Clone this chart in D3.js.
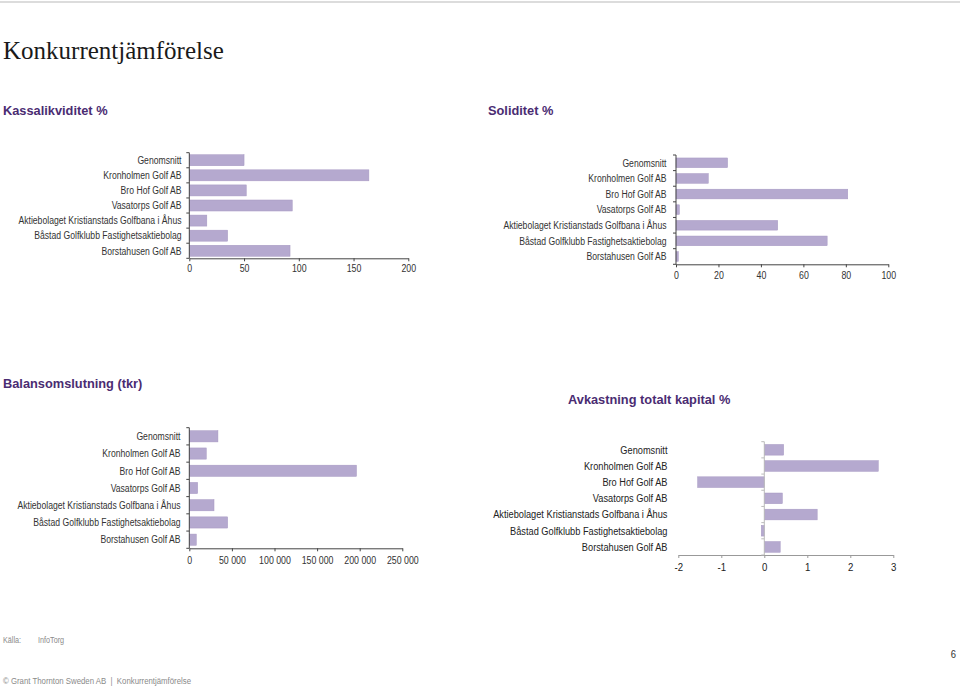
<!DOCTYPE html>
<html>
<head>
<meta charset="utf-8">
<script src="https://cdn.jsdelivr.net/npm/d3@7"></script>
<style>
  html, body { margin: 0; padding: 0; background: #fff; }
  svg { display: block; }
</style>
</head>
<body>
<svg id="chart" width="960" height="687"></svg>
<script>
// ---------------- DATA ----------------
const categories = [
  "Genomsnitt",
  "Kronholmen Golf AB",
  "Bro Hof Golf AB",
  "Vasatorps Golf AB",
  "Aktiebolaget Kristianstads Golfbana i Åhus",
  "Båstad Golfklubb Fastighetsaktiebolag",
  "Borstahusen Golf AB"
];
const kassalikviditet = [50, 164, 52, 94, 16, 35, 92];
const soliditet = [24.3, 15.2, 80.9, 1.6, 47.9, 71.2, 1.1];
const balansomslutning = [33600, 19900, 196200, 9800, 29000, 45000, 8200];
const avkastning = [0.45, 2.65, -1.55, 0.42, 1.23, -0.07, 0.37];

const ticksKassa = [0, 50, 100, 150, 200];
const ticksSoliditet = [0, 20, 40, 60, 80, 100];
const ticksBalans = [0, 50000, 100000, 150000, 200000, 250000];
const ticksAvkastning = [-2, -1, 0, 1, 2, 3];

const pageTitle = "Konkurrentjämförelse";
const chartTitles = ["Kassalikviditet %", "Soliditet %", "Balansomslutning (tkr)", "Avkastning totalt kapital %"];
const sourceLabel = "Källa:";
const sourceName = "InfoTorg";
const footerText = "© Grant Thornton Sweden AB  |  Konkurrentjämförelse";
const pageNumber = "6";

// ---------------- STYLE ----------------
const BAR_FILL = "#b5a9cf";
const BAR_STROKE = "#a697c2";
const PURPLE = "#4a2c72";
const SANS = "'Liberation Sans', Arial, sans-serif";

const svg = d3.select("#chart");

// top rule
svg.append("rect").attr("x", 0).attr("y", 1).attr("width", 960).attr("height", 2).attr("fill", "#dcdcdc");

// page title
svg.append("text").attr("x", 3).attr("y", 59)
  .attr("font-family", "'Liberation Serif', 'Times New Roman', serif")
  .attr("font-size", 25).attr("fill", "#1a1a1a").text(pageTitle);

// section titles
const titlePos = [[3, 115], [488, 115], [3, 388], [568, 404]];
chartTitles.forEach((t, i) => {
  svg.append("text").attr("x", titlePos[i][0]).attr("y", titlePos[i][1])
    .attr("font-family", SANS).attr("font-weight", "bold").attr("font-size", 12.8)
    .attr("fill", PURPLE).text(t);
});

// helper: horizontally-scaled text
function sText(g, x, y, str, opts) {
  const t = g.append("text")
    .attr("transform", `translate(${x},${y}) scale(${opts.sx},1)`)
    .attr("font-family", SANS).attr("font-size", opts.size)
    .attr("fill", opts.fill || "#333")
    .attr("text-anchor", opts.anchor || "start")
    .style("white-space", "pre")
    .text(str);
  if (opts.dy) t.attr("dy", opts.dy);
  return t;
}

function drawChart(cfg) {
  const g = svg.append("g");
  const x = d3.scaleLinear().domain(cfg.domain).range(cfg.xRange);
  const y = d3.scaleBand().domain(categories).range(cfg.yRange)
    .paddingInner(cfg.pad).paddingOuter(cfg.pad / 2);
  const step = y.step();
  const bottom = cfg.yRange[1];

  // bars
  g.selectAll("rect.bar").data(cfg.values).join("rect")
    .attr("class", "bar")
    .attr("x", (d) => x(Math.min(0, d)))
    .attr("width", (d) => Math.abs(x(d) - x(0)))
    .attr("y", (d, i) => y(categories[i]))
    .attr("height", y.bandwidth())
    .attr("fill", BAR_FILL).attr("stroke", BAR_STROKE).attr("stroke-width", 0.5);

  // x axis
  const xa = d3.axisBottom(x).tickValues(cfg.ticks).tickSize(cfg.xTickSize).tickSizeOuter(0)
    .tickFormat(cfg.fmt);
  const xg = g.append("g").attr("transform", `translate(0,${bottom})`).call(xa);
  xg.select(".domain").attr("stroke", cfg.axisColor);
  xg.selectAll(".tick line").attr("stroke", cfg.axisColor);
  xg.selectAll(".tick text")
    .attr("font-family", SANS).attr("font-size", cfg.tickFont)
    .attr("fill", cfg.textColor)
    .attr("y", cfg.tickLabelY).attr("dy", 0)
    .attr("transform", `scale(${cfg.sx},1)`);

  // y axis line and band-boundary ticks
  const x0 = x(0);
  g.append("line").attr("x1", x0).attr("x2", x0)
    .attr("y1", cfg.yRange[0]).attr("y2", bottom)
    .attr("stroke", cfg.yAxisColor).attr("stroke-width", 1);
  const bounds = d3.range(categories.length + 1).map((i) => cfg.yRange[0] + i * step);
  g.selectAll("line.yt").data(bounds).join("line").attr("class", "yt")
    .attr("x1", x0 - 3).attr("x2", x0)
    .attr("y1", (d) => d).attr("y2", (d) => d)
    .attr("stroke", cfg.yAxisColor).attr("stroke-width", 1);

  // category labels
  categories.forEach((c) => {
    sText(g, cfg.labelRight, y(c) + y.bandwidth() / 2, c,
      { sx: cfg.sx, size: cfg.labelFont, anchor: "end", dy: "0.35em", fill: cfg.textColor });
  });
}

const spaceFmt = (d) => d3.format(",")(d).replace(/,/g, " ");
const plainFmt = (d) => String(d);

drawChart({
  values: kassalikviditet, domain: [0, 200], ticks: ticksKassa, fmt: plainFmt,
  xRange: [189.3, 408.3], yRange: [152.7, 258.3], pad: 0.27,
  labelRight: 181.5, sx: 0.8, labelFont: 10.8, tickFont: 11, tickLabelY: 14,
  xTickSize: 3, axisColor: "#444", yAxisColor: "#444", textColor: "#333"
});
drawChart({
  values: soliditet, domain: [0, 100], ticks: ticksSoliditet, fmt: plainFmt,
  xRange: [676, 888.3], yRange: [155, 264.3], pad: 0.38,
  labelRight: 666.5, sx: 0.8, labelFont: 10.8, tickFont: 11, tickLabelY: 15,
  xTickSize: 3, axisColor: "#444", yAxisColor: "#444", textColor: "#333"
});
drawChart({
  values: balansomslutning, domain: [0, 250000], ticks: ticksBalans, fmt: spaceFmt,
  xRange: [189.3, 402.3], yRange: [427.7, 548.3], pad: 0.35,
  labelRight: 180.5, sx: 0.8, labelFont: 10.8, tickFont: 11, tickLabelY: 16,
  xTickSize: 3, axisColor: "#444", yAxisColor: "#444", textColor: "#333"
});
drawChart({
  values: avkastning, domain: [-2, 3], ticks: ticksAvkastning, fmt: plainFmt,
  xRange: [678.3, 893.3], yRange: [441.7, 555], pad: 0.34,
  labelRight: 667.5, sx: 0.84, labelFont: 11, tickFont: 11.5, tickLabelY: 16,
  xTickSize: 3, axisColor: "#999", yAxisColor: "#bbb", textColor: "#222"
});

// footer
sText(svg, 3, 643, sourceLabel, { sx: 0.85, size: 8.5, fill: "#8a8a8a" });
sText(svg, 38, 643, sourceName, { sx: 0.85, size: 8.5, fill: "#8a8a8a" });
sText(svg, 956, 658, pageNumber, { sx: 0.9, size: 10.5, fill: "#333", anchor: "end" });
sText(svg, 3, 684, footerText, { sx: 0.85, size: 9.2, fill: "#8a8a8a" });
</script>
</body>
</html>
